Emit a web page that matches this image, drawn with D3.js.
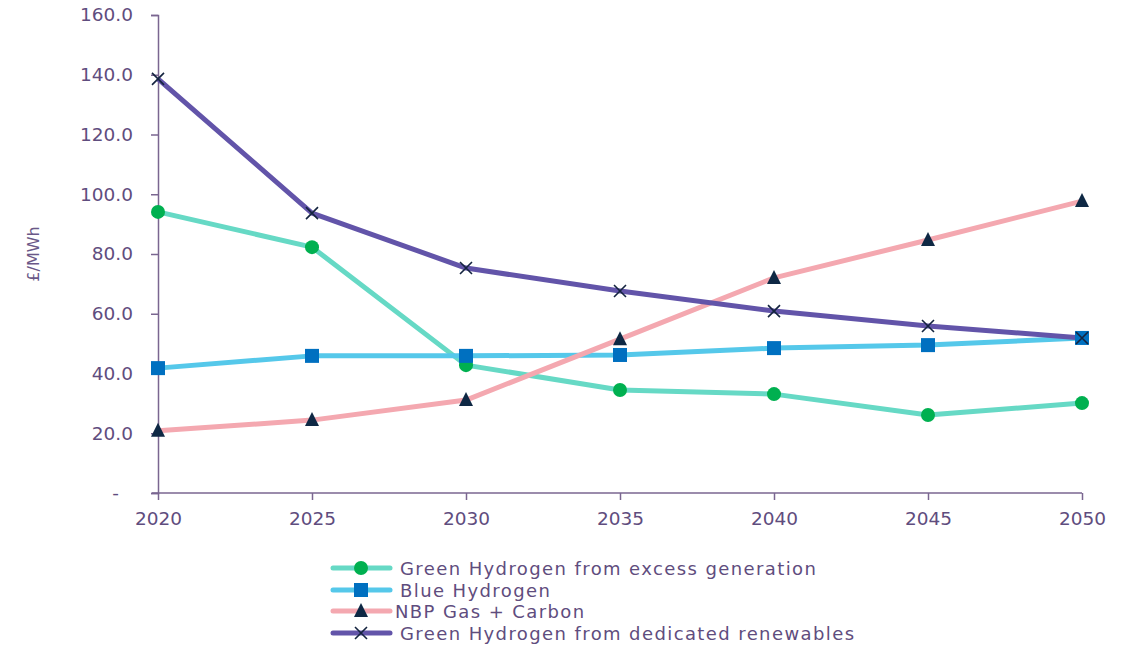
<!DOCTYPE html>
<html>
<head>
<meta charset="utf-8">
<script src="https://cdn.jsdelivr.net/npm/d3@7"></script>
<style>
  body { margin: 0; background: #ffffff; }
  svg text { font-family: "DejaVu Sans", "Lato", sans-serif; fill: #5b4a7a; }
</style>
</head>
<body>
<svg id="chart" width="1130" height="647"></svg>
<script>
// Cost of hydrogen vs gas, £/MWh
const years = [2020, 2025, 2030, 2035, 2040, 2045, 2050];
const yTicks = [0, 20, 40, 60, 80, 100, 120, 140, 160];

const greenExcess    = [94.1, 82.3, 42.8, 34.5, 33.1, 26.1, 30.1];
const blueHydrogen   = [41.8, 45.9, 45.9, 46.2, 48.5, 49.5, 51.9];
const nbpGasCarbon   = [20.8, 24.4, 31.1, 51.5, 72.0, 84.7, 97.7];
const greenDedicated = [138.6, 93.7, 75.3, 67.6, 60.9, 55.9, 51.9];

const seriesNames = [
  "Green Hydrogen from excess generation",
  "Blue Hydrogen",
  "NBP Gas + Carbon",
  "Green Hydrogen from dedicated renewables"
];

const series = [
  { name: seriesNames[0], values: greenExcess,    line: "#66d9c5", marker: "circle",   mcolor: "#00b050" },
  { name: seriesNames[1], values: blueHydrogen,   line: "#55c8ea", marker: "square",   mcolor: "#0070c0" },
  { name: seriesNames[2], values: nbpGasCarbon,   line: "#f4a8b0", marker: "triangle", mcolor: "#0e2844" },
  { name: seriesNames[3], values: greenDedicated, line: "#6254a9", marker: "cross",    mcolor: "#14243f" }
];

const svg = d3.select("#chart");
const margin = { left: 158, right: 48, top: 15, bottom: 154 };
const W = 1130, H = 647;

const x = d3.scaleLinear().domain([2020, 2050]).range([margin.left, W - margin.right]);
const y = d3.scaleLinear().domain([0, 160]).range([H - margin.bottom, margin.top]);

const axisColor = "#7a6690";
const textColor = "#5f4d7e";

// Y axis ("-" stands for zero, set a little further out)
const yAxis = svg.append("g")
  .attr("transform", `translate(${margin.left},0)`)
  .call(d3.axisLeft(y).tickValues(yTicks).tickSize(7).tickPadding(18)
    .tickFormat(d => d === 0 ? "-" : d3.format(".1f")(d)));
yAxis.select(".domain").attr("stroke", axisColor).attr("stroke-width", 1.5);
yAxis.selectAll(".tick line").attr("stroke", axisColor).attr("stroke-width", 1.5);
yAxis.selectAll(".tick text").attr("font-size", 18.5).style("fill", textColor);
yAxis.selectAll(".tick").filter(d => d === 0).select("text").attr("dx", -14);

// X axis
const xAxis = svg.append("g")
  .attr("transform", `translate(0,${y(0)})`)
  .call(d3.axisBottom(x).tickValues(years).tickSize(7).tickPadding(12).tickFormat(d3.format("d")));
xAxis.select(".domain").attr("stroke", axisColor).attr("stroke-width", 1.5)
  .attr("d", `M${margin.left - 6},0H${W - margin.right}`);
xAxis.selectAll(".tick line").attr("stroke", axisColor).attr("stroke-width", 1.5);
xAxis.selectAll(".tick text").attr("font-size", 18.5).style("fill", textColor);

// Y axis title
svg.append("text")
  .attr("transform", `translate(39,${(y(0) + y(160)) / 2}) rotate(-90)`)
  .attr("text-anchor", "middle")
  .attr("font-size", 16)
  .style("fill", "#6a5888")
  .text("£/MWh");

const line = d3.line().x((d, i) => x(years[i])).y(d => y(d));

function drawMarker(g, type, color, cx, cy) {
  if (type === "circle") {
    g.append("circle").attr("cx", cx).attr("cy", cy).attr("r", 7).attr("fill", color);
  } else if (type === "square") {
    g.append("rect").attr("x", cx - 7).attr("y", cy - 7).attr("width", 14).attr("height", 14).attr("fill", color);
  } else if (type === "triangle") {
    g.append("path").attr("d", `M${cx},${cy - 8}L${cx + 7},${cy + 6}L${cx - 7},${cy + 6}Z`).attr("fill", color);
  } else if (type === "cross") {
    g.append("path").attr("d", `M${cx - 6},${cy - 6}L${cx + 6},${cy + 6}M${cx + 6},${cy - 6}L${cx - 6},${cy + 6}`)
      .attr("stroke", color).attr("stroke-width", 1.6).attr("fill", "none");
  }
}

// Lines first, then markers
series.forEach(s => {
  svg.append("path").datum(s.values)
    .attr("d", line)
    .attr("fill", "none")
    .attr("stroke", s.line)
    .attr("stroke-width", 5)
    .attr("stroke-linejoin", "round");
});
series.forEach(s => {
  const g = svg.append("g");
  s.values.forEach((v, i) => drawMarker(g, s.marker, s.mcolor, x(years[i]), y(v)));
});

// Legend
const legend = svg.append("g");
const legendY = [568, 590, 611, 633];
series.forEach((s, i) => {
  const ly = legendY[i];
  legend.append("line").attr("x1", 333).attr("x2", 390).attr("y1", ly).attr("y2", ly)
    .attr("stroke", s.line).attr("stroke-width", 5).attr("stroke-linecap", "round");
  drawMarker(legend, s.marker, s.mcolor, 361, ly);
  legend.append("text")
    .attr("x", i === 2 ? 395 : 400)
    .attr("y", ly + 6.5)
    .attr("font-size", 18)
    .attr("letter-spacing", 1.4)
    .style("fill", textColor)
    .text(s.name);
});
</script>
</body>
</html>
